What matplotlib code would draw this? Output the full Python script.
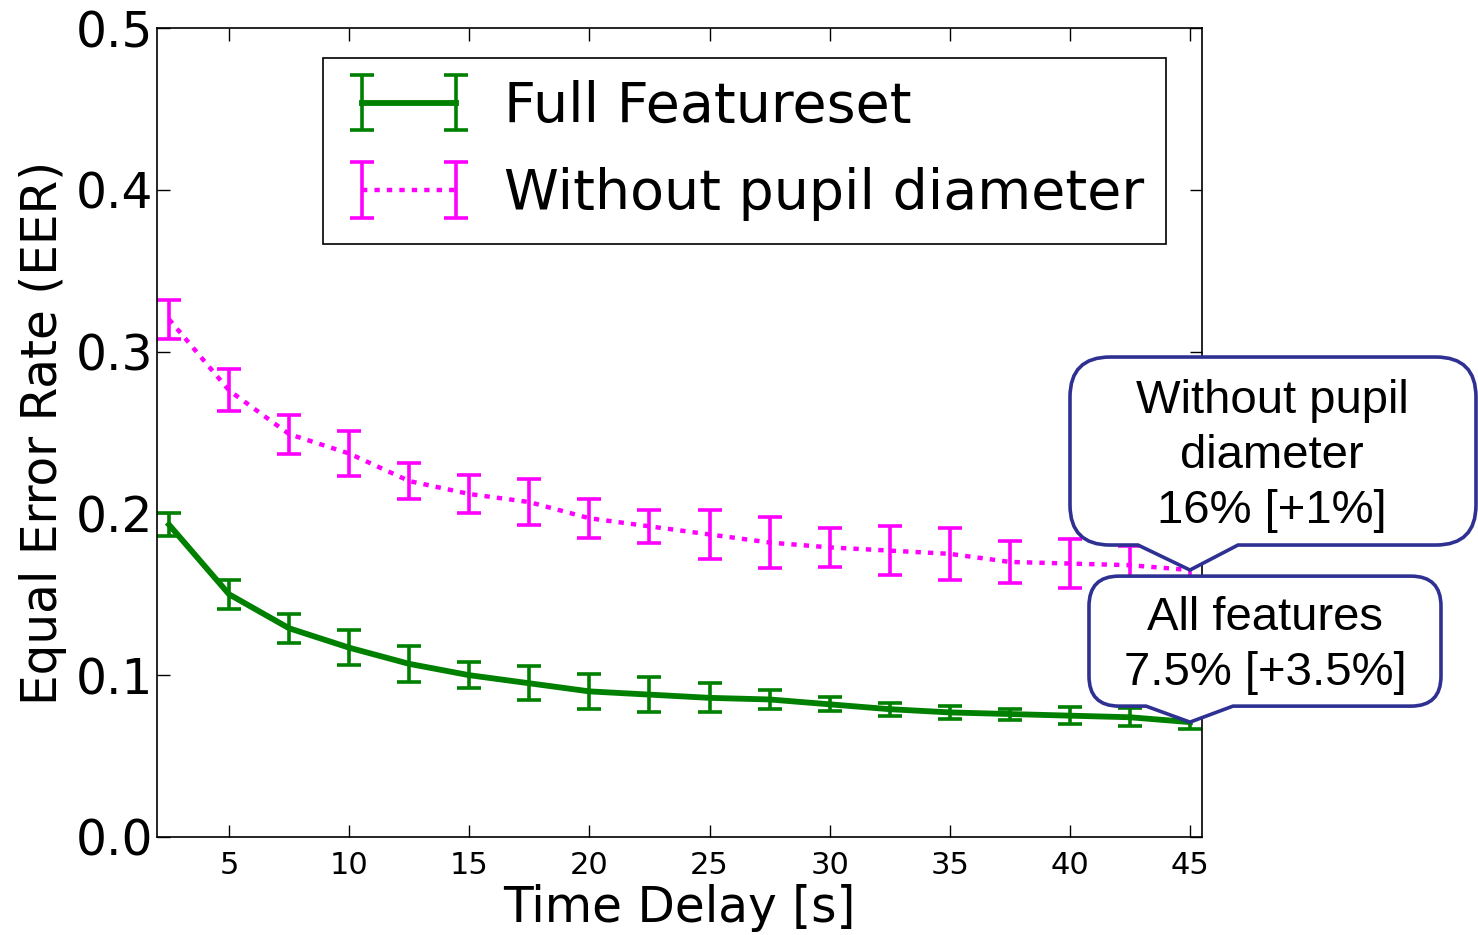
import numpy as np
import matplotlib
matplotlib.use("Agg")
import matplotlib.pyplot as plt
from matplotlib.path import Path
from matplotlib.patches import PathPatch
from matplotlib.transforms import IdentityTransform

# data
delay = [2.5, 5, 7.5, 10, 12.5, 15, 17.5, 20, 22.5, 25, 27.5, 30, 32.5, 35, 37.5, 40, 42.5, 45]
eer_full = [0.193, 0.150, 0.129, 0.117, 0.107, 0.100, 0.095, 0.090, 0.088, 0.086,
            0.085, 0.082, 0.079, 0.077, 0.076, 0.075, 0.074, 0.071]
err_full = [0.007, 0.009, 0.009, 0.011, 0.011, 0.008, 0.0105, 0.011, 0.011, 0.009,
            0.006, 0.0044, 0.004, 0.004, 0.0034, 0.0054, 0.0056, 0.004]
eer_nopupil = [0.320, 0.276, 0.249, 0.237, 0.220, 0.212, 0.207, 0.197, 0.192, 0.187,
               0.182, 0.179, 0.177, 0.175, 0.170, 0.169, 0.168, 0.165]
err_nopupil = [0.012, 0.013, 0.012, 0.014, 0.011, 0.012, 0.014, 0.012, 0.010, 0.015,
               0.016, 0.012, 0.015, 0.016, 0.013, 0.015, 0.012, 0.010]

labels = ["Full Featureset", "Without pupil diameter"]
callout_top = "Without pupil\ndiameter\n16% [+1%]"
callout_bottom = "All features\n7.5% [+3.5%]"

W, H, DPI = 1478, 935, 100
fig = plt.figure(figsize=(W / DPI, H / DPI), dpi=DPI)
ax = fig.add_axes([157 / W, 1 - 837 / H, (1202 - 157) / W, (837 - 28) / H])

ax.errorbar(delay, eer_full, yerr=err_full, color="#008000", lw=4.2, ls="-",
            elinewidth=2.6, capsize=8.5, capthick=2.6, label=labels[0])
ax.errorbar(delay, eer_nopupil, yerr=err_nopupil, color="#ff00ff", lw=3.2, ls=(0, (1.2, 1.6)),
            elinewidth=2.6, capsize=8.5, capthick=2.6, label=labels[1])

ax.set_xlim(2, 45.5)
ax.set_ylim(0, 0.5)
ax.set_xticks(np.arange(5, 46, 5))
ax.set_yticks(np.arange(0, 0.51, 0.1))
ax.set_yticklabels(["%.1f" % v for v in np.arange(0, 0.51, 0.1)])
ax.tick_params(axis="both", direction="in", top=True, right=True, length=9, width=1)
ax.tick_params(axis="x", labelsize=22, pad=10)
ax.tick_params(axis="y", labelsize=35, pad=3)
for s in ax.spines.values():
    s.set_linewidth(1.2)
ax.set_xlabel("Time Delay [s]", fontsize=35, labelpad=3)
ax.set_ylabel("Equal Error Rate (EER)", fontsize=35, labelpad=6)

leg = ax.legend(loc="upper left", bbox_to_anchor=(0.159, 0.963), fontsize=40,
                numpoints=2, handlelength=2.3, fancybox=False, framealpha=1,
                edgecolor="black", borderpad=0.4, labelspacing=0.6, handletextpad=0.55,
                borderaxespad=0)
leg.get_frame().set_linewidth(1.2)


def bubble(tip, x0, x1, y0, y1, bl, br, r, text, tx, ty):
    # speech bubble in pixel coords (y up), pointer at tip
    verts = [(x0 + r, y0), (bl, y0), tip, (br, y0), (x1 - r, y0),
             (x1, y0), (x1, y0 + r), (x1, y1 - r), (x1, y1), (x1 - r, y1),
             (x0 + r, y1), (x0, y1), (x0, y1 - r), (x0, y0 + r), (x0, y0),
             (x0 + r, y0), (x0 + r, y0)]
    codes = [Path.MOVETO, Path.LINETO, Path.LINETO, Path.LINETO, Path.LINETO,
             Path.CURVE3, Path.CURVE3, Path.LINETO, Path.CURVE3, Path.CURVE3,
             Path.LINETO, Path.CURVE3, Path.CURVE3, Path.LINETO, Path.CURVE3,
             Path.CURVE3, Path.CLOSEPOLY]
    p = PathPatch(Path(verts, codes), transform=IdentityTransform(), facecolor="white",
                  edgecolor="#2e3192", lw=2.6, clip_on=False, zorder=10)
    fig.add_artist(p)
    fig.text(tx / W, ty / H, text, ha="center", va="center", fontsize=34,
             family="Liberation Sans", linespacing=1.33, zorder=11)


fig.canvas.draw()
tx, ty = ax.transData.transform((delay[-1], eer_nopupil[-1]))
bubble((tx, ty), tx - 120, tx + 286, ty + 25, ty + 213, tx - 52, tx + 48, 40,
       callout_top, tx + 82, ty + 114)
tx, ty = ax.transData.transform((delay[-1], eer_full[-1]))
bubble((tx, ty), tx - 101, tx + 251, ty + 16, ty + 146, tx - 44, tx + 43, 30,
       callout_bottom, tx + 75, ty + 77)

fig.savefig("out.png", dpi=DPI)
